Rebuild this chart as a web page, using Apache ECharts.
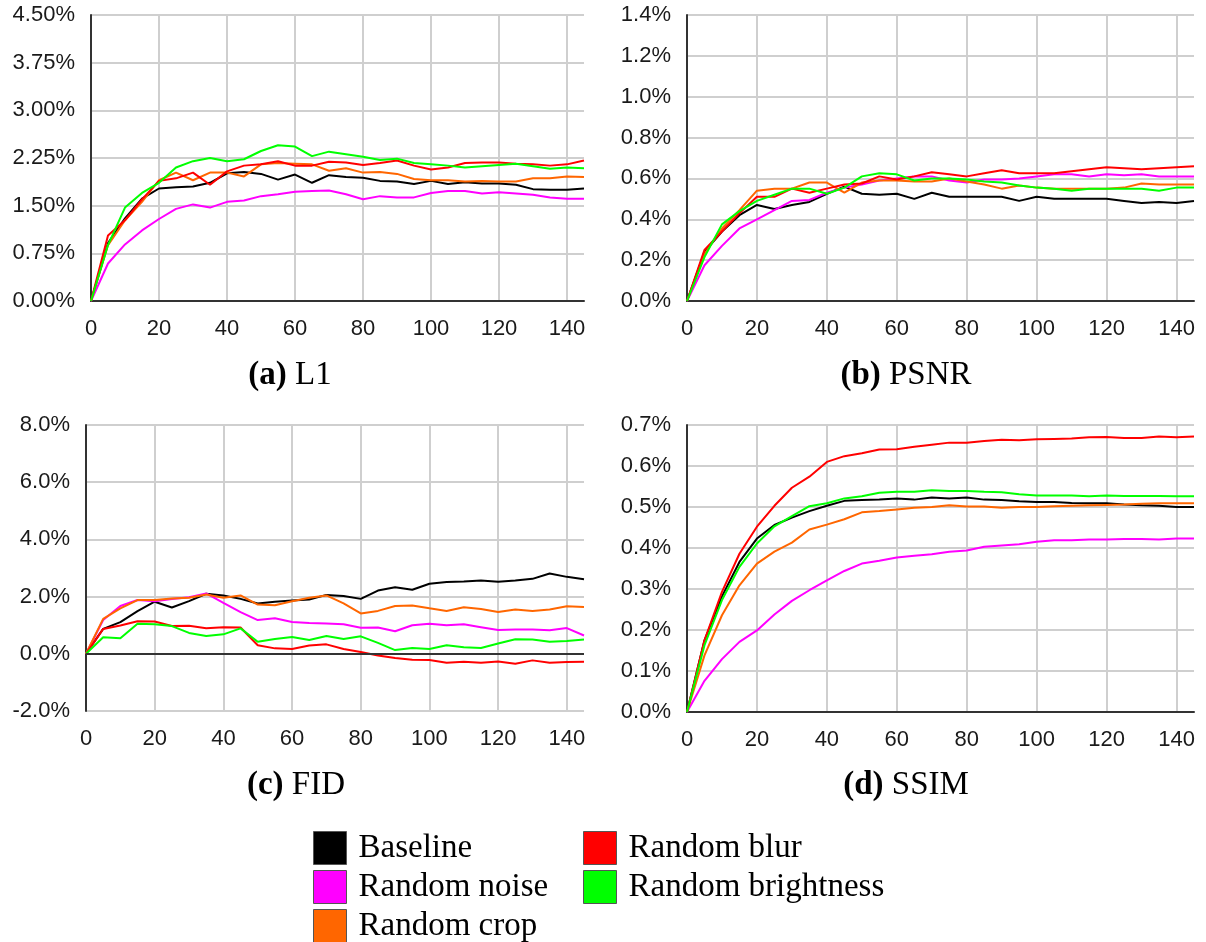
<!DOCTYPE html>
<html>
<head>
<meta charset="utf-8">
<script src="https://cdn.jsdelivr.net/npm/echarts@6/dist/echarts.min.js"></script>
<style>
html,body{margin:0;padding:0;background:#fff;}
#chart{width:1206px;height:942px;}
</style>
</head>
<body>
<div id="chart"></div>
<script>
// ---------- DATA ----------
const steps = [0,5,10,15,20,25,30,35,40,45,50,55,60,65,70,75,80,85,90,95,100,105,110,115,120,125,130,135,140,145];
const xTicks = [0,20,40,60,80,100,120,140];
const methods = ['Baseline','Random noise','Random crop','Random blur','Random brightness'];

// (a) L1 (%)
const l1Baseline   = [0,0.91,1.30,1.61,1.77,1.79,1.80,1.86,2.01,2.03,2.00,1.91,1.99,1.86,1.98,1.95,1.94,1.89,1.88,1.84,1.89,1.84,1.87,1.85,1.85,1.83,1.76,1.75,1.75,1.77];
const l1Noise      = [0,0.59,0.89,1.11,1.29,1.45,1.52,1.47,1.56,1.58,1.65,1.68,1.72,1.73,1.74,1.68,1.60,1.65,1.63,1.63,1.70,1.73,1.73,1.69,1.71,1.69,1.67,1.63,1.61,1.61];
const l1Crop       = [0,0.88,1.27,1.56,1.90,2.02,1.90,2.02,2.02,1.96,2.15,2.17,2.16,2.15,2.05,2.09,2.02,2.03,2.00,1.92,1.90,1.90,1.88,1.89,1.88,1.88,1.93,1.93,1.96,1.95];
const l1Blur       = [0,1.03,1.27,1.60,1.89,1.93,2.02,1.83,2.04,2.13,2.15,2.20,2.13,2.13,2.19,2.18,2.14,2.17,2.21,2.13,2.07,2.10,2.17,2.18,2.18,2.16,2.15,2.13,2.15,2.21];
const l1Brightness = [0,0.88,1.47,1.70,1.86,2.10,2.20,2.25,2.20,2.23,2.36,2.45,2.43,2.28,2.35,2.31,2.27,2.22,2.24,2.17,2.15,2.13,2.10,2.12,2.14,2.16,2.12,2.08,2.10,2.09];

// (b) PSNR (%)
const psnrBaseline   = [0,0.24,0.34,0.42,0.47,0.45,0.47,0.485,0.525,0.56,0.525,0.52,0.525,0.50,0.53,0.51,0.51,0.51,0.51,0.49,0.51,0.50,0.50,0.50,0.50,0.49,0.48,0.485,0.48,0.49];
const psnrNoise      = [0,0.175,0.27,0.355,0.40,0.445,0.49,0.495,0.53,0.555,0.57,0.59,0.60,0.61,0.61,0.59,0.58,0.595,0.595,0.60,0.61,0.62,0.62,0.61,0.62,0.615,0.62,0.61,0.61,0.61];
const psnrCrop       = [0,0.23,0.355,0.445,0.54,0.55,0.55,0.58,0.58,0.53,0.58,0.59,0.59,0.585,0.585,0.60,0.585,0.57,0.55,0.565,0.555,0.55,0.55,0.55,0.55,0.555,0.575,0.57,0.57,0.57];
const psnrBlur       = [0,0.25,0.34,0.43,0.51,0.51,0.55,0.53,0.55,0.57,0.575,0.61,0.595,0.61,0.63,0.62,0.61,0.625,0.64,0.625,0.625,0.625,0.635,0.645,0.655,0.65,0.645,0.65,0.655,0.66];
const psnrBrightness = [0,0.215,0.375,0.44,0.49,0.52,0.55,0.55,0.525,0.555,0.61,0.625,0.62,0.59,0.60,0.60,0.595,0.585,0.58,0.565,0.555,0.55,0.54,0.55,0.55,0.55,0.55,0.54,0.555,0.555];

// (c) FID (%)
const fidBaseline   = [0,0.87,1.11,1.49,1.82,1.62,1.84,2.10,2.04,1.92,1.76,1.82,1.86,1.90,2.06,2.02,1.92,2.21,2.33,2.24,2.45,2.51,2.53,2.56,2.52,2.56,2.62,2.81,2.69,2.61];
const fidNoise      = [0,1.18,1.67,1.88,1.84,1.92,1.98,2.11,1.78,1.46,1.18,1.24,1.11,1.08,1.06,1.03,0.91,0.92,0.79,1.00,1.05,1.00,1.03,0.93,0.83,0.85,0.85,0.82,0.90,0.64];
const fidCrop       = [0,1.22,1.59,1.88,1.88,1.93,1.96,2.07,1.96,2.04,1.72,1.70,1.84,1.96,2.04,1.76,1.41,1.50,1.67,1.69,1.59,1.50,1.63,1.57,1.46,1.55,1.50,1.55,1.66,1.64];
const fidBlur       = [0,0.87,0.99,1.14,1.13,0.97,0.98,0.89,0.93,0.92,0.30,0.19,0.17,0.29,0.33,0.17,0.06,-0.06,-0.15,-0.21,-0.22,-0.31,-0.28,-0.31,-0.27,-0.35,-0.23,-0.31,-0.29,-0.28];
const fidBrightness = [0,0.58,0.54,1.05,1.03,0.97,0.73,0.62,0.68,0.89,0.42,0.52,0.59,0.48,0.62,0.52,0.61,0.38,0.13,0.20,0.17,0.30,0.23,0.20,0.36,0.51,0.50,0.42,0.45,0.50];

// (d) SSIM (%)
const ssimBaseline   = [0,0.175,0.282,0.366,0.423,0.456,0.474,0.490,0.503,0.515,0.517,0.518,0.521,0.518,0.523,0.521,0.523,0.518,0.517,0.514,0.512,0.512,0.510,0.509,0.509,0.506,0.504,0.503,0.500,0.500];
const ssimNoise      = [0,0.076,0.129,0.171,0.199,0.238,0.271,0.297,0.321,0.344,0.362,0.369,0.377,0.381,0.385,0.391,0.394,0.403,0.406,0.409,0.415,0.419,0.419,0.421,0.421,0.422,0.422,0.421,0.423,0.423];
const ssimCrop       = [0,0.138,0.236,0.309,0.362,0.391,0.413,0.445,0.457,0.470,0.487,0.490,0.494,0.498,0.500,0.504,0.501,0.501,0.498,0.500,0.500,0.502,0.503,0.504,0.505,0.506,0.508,0.509,0.509,0.509];
const ssimBlur       = [0,0.175,0.293,0.386,0.452,0.503,0.547,0.574,0.610,0.624,0.631,0.640,0.641,0.647,0.652,0.657,0.657,0.661,0.664,0.663,0.665,0.666,0.667,0.670,0.671,0.668,0.668,0.672,0.670,0.672];
const ssimBrightness = [0,0.163,0.273,0.354,0.411,0.453,0.478,0.502,0.509,0.521,0.526,0.535,0.537,0.537,0.541,0.539,0.539,0.537,0.536,0.531,0.528,0.528,0.528,0.526,0.528,0.527,0.527,0.527,0.526,0.526];

// ---------- STYLE / LAYOUT ----------
const colors = ['#000000','#ff00ff','#ff6600','#ff0000','#00ff00'];
const panels = [
  {label:'(a)', name:'L1',   data:[l1Baseline,l1Noise,l1Crop,l1Blur,l1Brightness], min:0, max:4.5, interval:0.75, dec:2,
   grid:{left:91, right:622, top:15, bottom:641}, title:[290,375]},
  {label:'(b)', name:'PSNR', data:[psnrBaseline,psnrNoise,psnrCrop,psnrBlur,psnrBrightness], min:0, max:1.4, interval:0.2, dec:1,
   grid:{left:687, right:12, top:15, bottom:641}, title:[906,375]},
  {label:'(c)', name:'FID',  data:[fidBaseline,fidNoise,fidCrop,fidBlur,fidBrightness], min:-2, max:8, interval:2, dec:1,
   grid:{left:86, right:622, top:425, bottom:231}, title:[296,785], zeroLine:true},
  {label:'(d)', name:'SSIM', data:[ssimBaseline,ssimNoise,ssimCrop,ssimBlur,ssimBrightness], min:0, max:0.7, interval:0.1, dec:1,
   grid:{left:687, right:12, top:425, bottom:230}, title:[906,785]}
];
const sansFont = "'Liberation Sans', Arial, sans-serif";
const serifFont = "'Liberation Serif', 'Times New Roman', serif";
const gridColor = '#cfcfcf';
const axisColor = '#333333';

const grids = [], xAxes = [], yAxes = [], series = [], graphics = [];
panels.forEach((p, i) => {
  grids.push(Object.assign({containLabel:false}, p.grid));
  xAxes.push({
    type:'value', gridIndex:i, min:0, max:145,
    axisLine:{show:!p.zeroLine, onZero:!p.zeroLine, lineStyle:{color:axisColor, width:2}},
    axisTick:{show:false, customValues:xTicks},
    axisLabel:{customValues:xTicks, fontSize:22, fontFamily:sansFont, color:'#1a1a1a', margin:17},
    splitLine:{show:true, lineStyle:{color:gridColor, width:2}}
  });
  yAxes.push({
    type:'value', gridIndex:i, min:p.min, max:p.max, interval:p.interval,
    axisLine:{show:true, onZero:false, lineStyle:{color:axisColor, width:2}},
    axisTick:{show:false},
    axisLabel:{fontSize:22, fontFamily:sansFont, color:'#1a1a1a', margin:16,
      formatter:(v)=> v.toFixed(p.dec) + '%'},
    splitLine:{show:true, lineStyle:{color:gridColor, width:2}}
  });
  p.data.forEach((vals, k) => {
    const s = {
      type:'line', name:methods[k], xAxisIndex:i, yAxisIndex:i,
      data: steps.map((x, j) => [x, vals[j]]),
      showSymbol:false, symbol:'none', smooth:false,
      lineStyle:{width:2, color:colors[k]}, itemStyle:{color:colors[k]},
      emphasis:{disabled:true}
    };
    if (p.zeroLine && k === 0) {
      s.markLine = {silent:true, symbol:['none','none'], label:{show:false}, animation:false,
        lineStyle:{color:axisColor, width:2, type:'solid'}, emphasis:{disabled:true},
        data:[{yAxis:0}]};
    }
    series.push(s);
  });
  graphics.push({
    type:'text', x:p.title[0], y:p.title[1],
    style:{
      text:'{b|' + p.label + '} ' + p.name,
      fontFamily:serifFont, fontSize:33, fill:'#000',
      align:'center', verticalAlign:'middle',
      rich:{b:{fontWeight:'bold', fontFamily:serifFont, fontSize:33}}
    }
  });
});

const legendBase = {
  orient:'vertical', icon:'rect', itemWidth:33, itemHeight:33, itemGap:5, top:831, padding:0,
  height:115,
  itemStyle:{borderColor:'#555555', borderWidth:1},
  textStyle:{fontFamily:serifFont, fontSize:33, color:'#000', padding:[0,0,0,7]},
  selectedMode:false
};

const option = {
  animation:false,
  backgroundColor:'#ffffff',
  grid:grids, xAxis:xAxes, yAxis:yAxes, series:series,
  legend:[
    Object.assign({}, legendBase, {left:313, data:['Baseline','Random noise','Random crop']}),
    Object.assign({}, legendBase, {left:583, data:['Random blur','Random brightness']})
  ],
  graphic:graphics
};

const chart = echarts.init(document.getElementById('chart'), null, {renderer:'canvas'});
chart.setOption(option);
</script>
</body>
</html>
